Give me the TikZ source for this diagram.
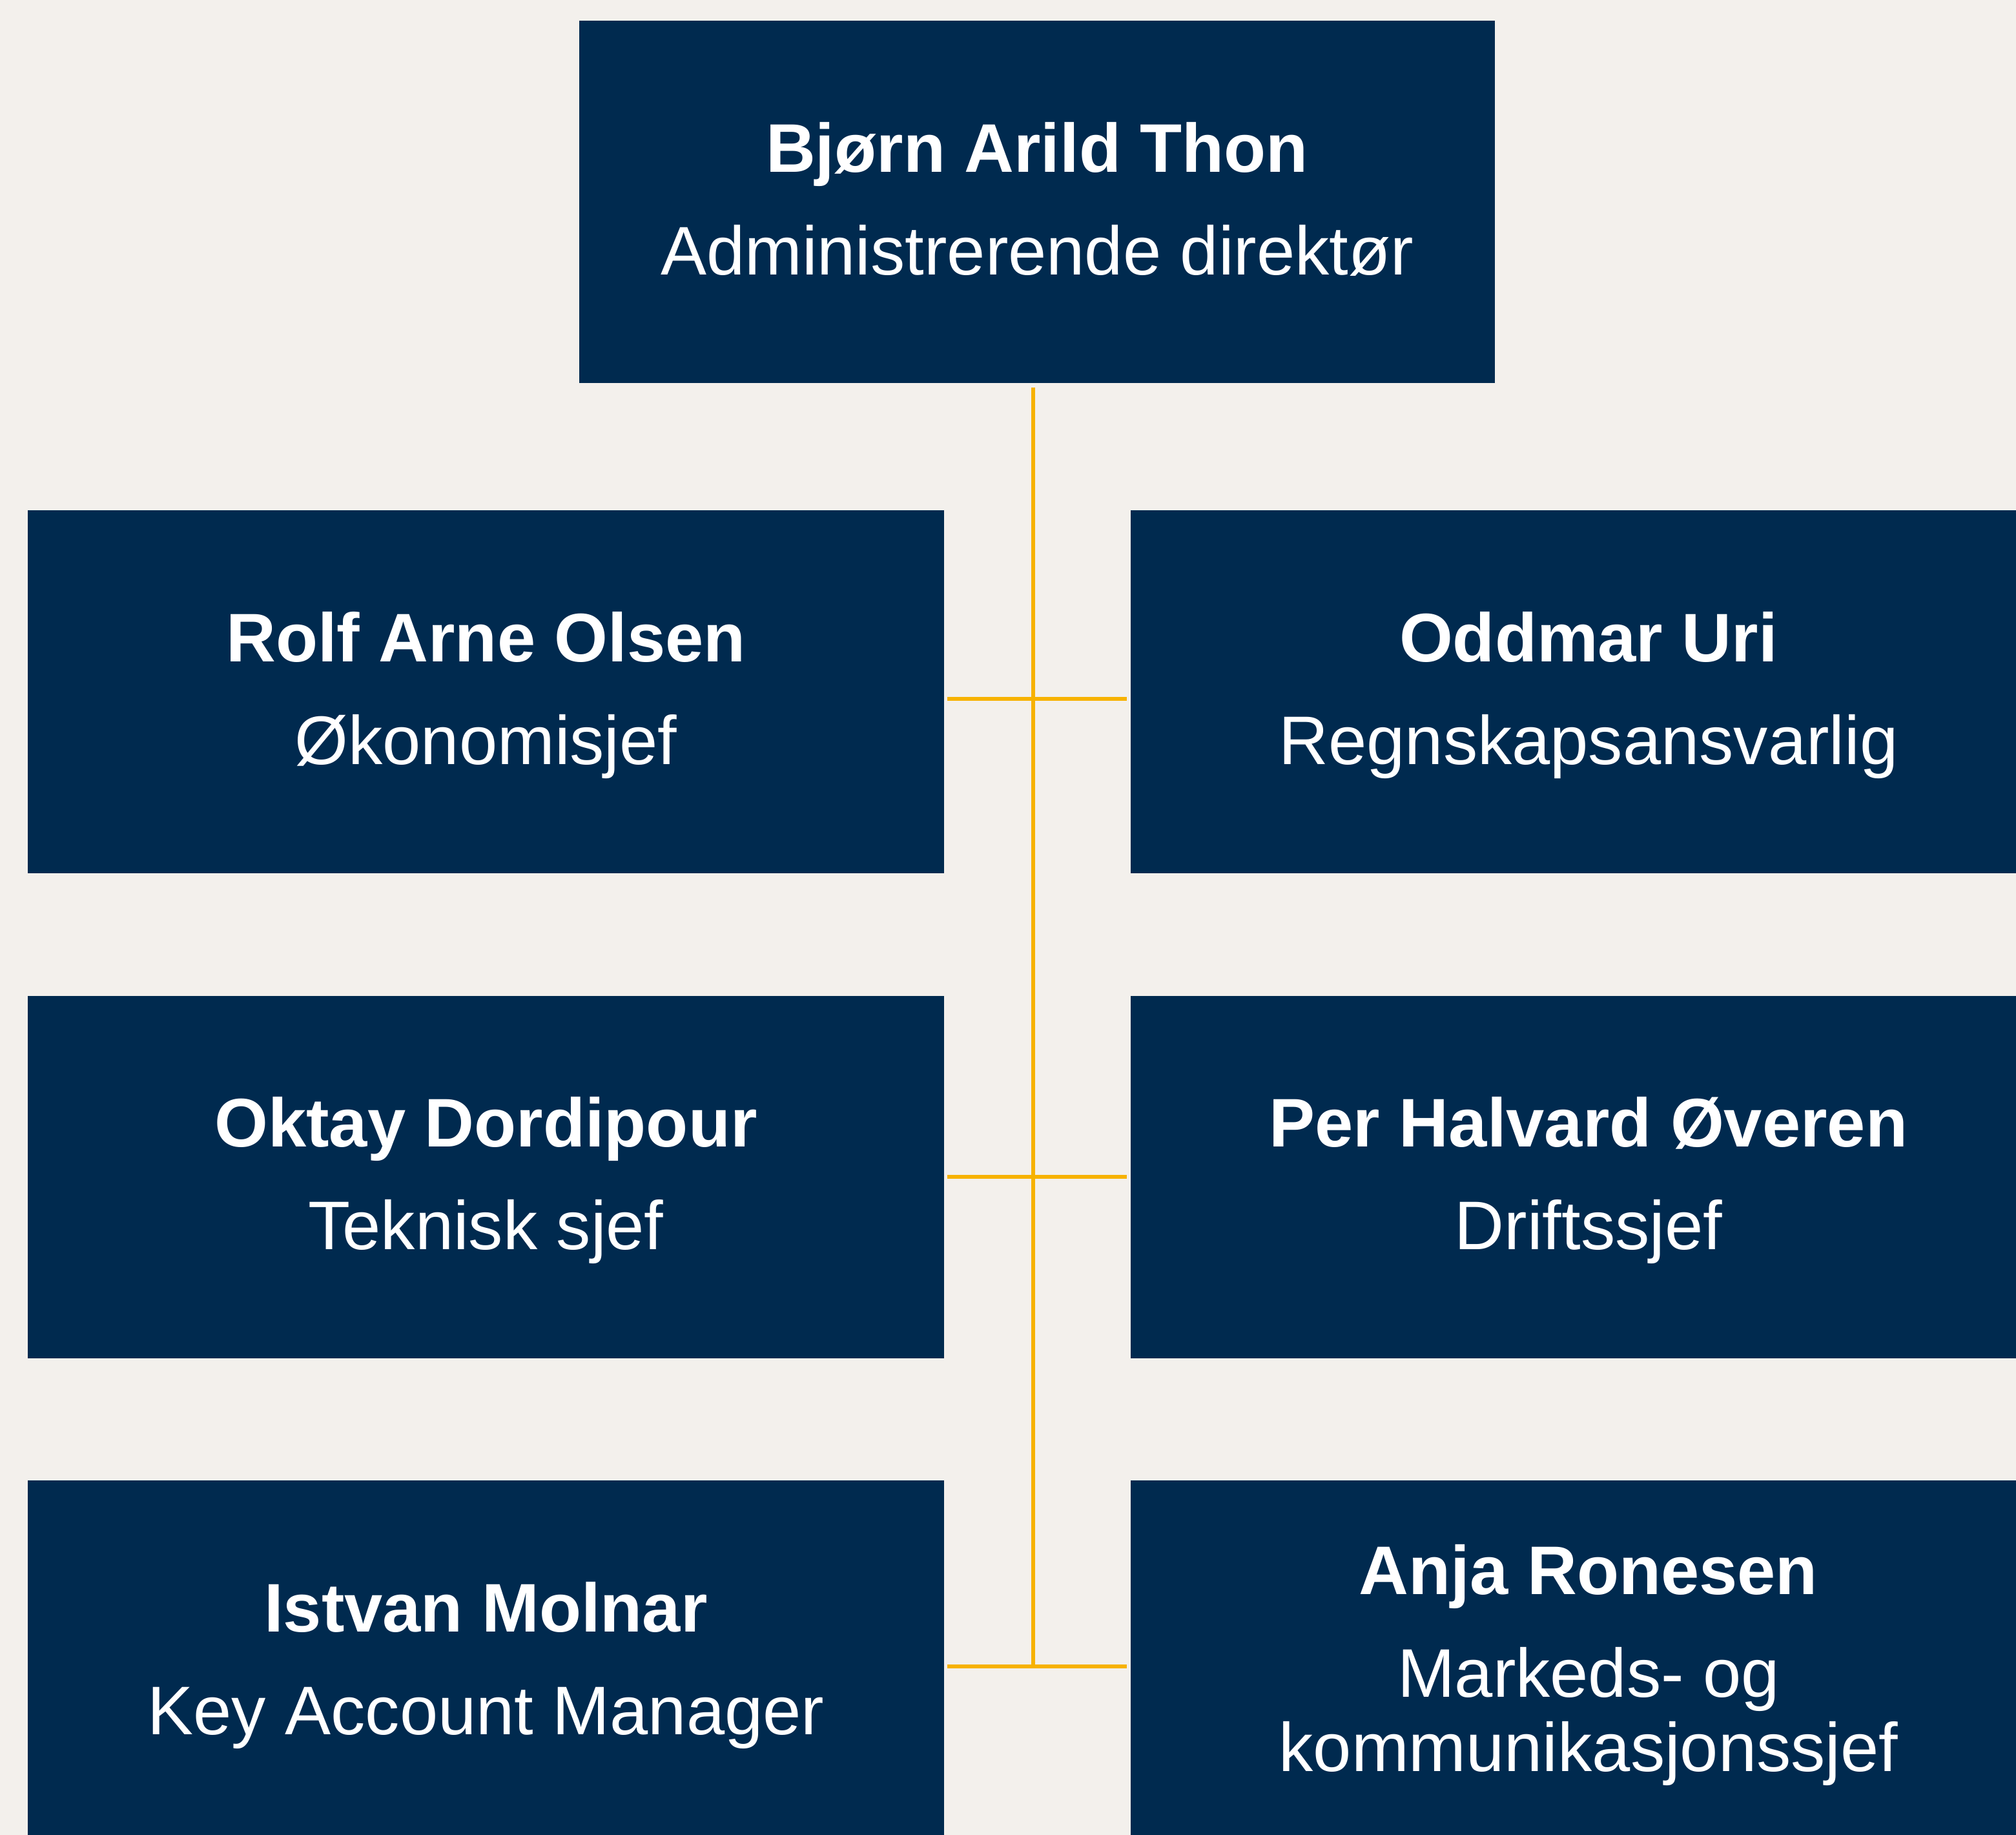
\documentclass[tikz,border=0pt]{standalone}
\usepackage{fontspec}
\setmainfont{Liberation Sans}
\usetikzlibrary{positioning}
\definecolor{pagebg}{RGB}{243,240,236}
\definecolor{boxblue}{RGB}{0,42,79}
\definecolor{linkyellow}{RGB}{247,178,0}
\tikzset{
  pbox/.style={rectangle, fill=boxblue, minimum width=14.18cm, minimum height=5.61cm, inner sep=0pt},
  pname/.style={anchor=base, text=white, inner sep=0pt, font=\fontsize{30.3}{36}\selectfont\bfseries},
  prole/.style={anchor=base, text=white, inner sep=0pt, font=\fontsize{30.3}{36}\selectfont},
  link/.style={draw=linkyellow, line width=0.055cm}
}
\begin{document}
\begin{tikzpicture}
\fill[pagebg] (0,0) rectangle (31.22,-28.41);
\useasboundingbox (0,0) rectangle (31.22,-28.41);
\begin{scope}
\clip (0,0) rectangle (31.22,-28.41);
% boxes
\node[pbox] (thon) at (16.06,-3.125) {};
\node[pbox] (olsen) at (7.525,-10.71) {};
\node[pbox] (uri) at (24.60,-10.71) {};
\node[pbox] (dordipour) at (7.525,-18.22) {};
\node[pbox] (overen) at (24.60,-18.22) {};
\node[pbox] (molnar) at (7.525,-25.725) {};
\node[pbox] (ronesen) at (24.60,-25.725) {};
% names and roles
\node[pname] (thon-n) at ([yshift=-2.35cm]thon.north) {Bjørn Arild Thon};
\node[prole] (thon-r) at ([yshift=-3.94cm]thon.north) {Administrerende direktør};
\node[pname] (olsen-n) at ([yshift=-2.35cm]olsen.north) {Rolf Arne Olsen};
\node[prole] (olsen-r) at ([yshift=-3.94cm]olsen.north) {Økonomisjef};
\node[pname] (uri-n) at ([yshift=-2.35cm]uri.north) {Oddmar Uri};
\node[prole] (uri-r) at ([yshift=-3.94cm]uri.north) {Regnskapsansvarlig};
\node[pname] (dordipour-n) at ([yshift=-2.35cm]dordipour.north) {Oktay Dordipour};
\node[prole] (dordipour-r) at ([yshift=-3.94cm]dordipour.north) {Teknisk sjef};
\node[pname] (overen-n) at ([yshift=-2.35cm]overen.north) {Per Halvard Øveren};
\node[prole] (overen-r) at ([yshift=-3.94cm]overen.north) {Driftssjef};
\node[pname] (molnar-n) at ([yshift=-2.35cm]molnar.north) {Istvan Molnar};
\node[prole] (molnar-r) at ([yshift=-3.94cm]molnar.north) {Key Account Manager};
\node[pname] (ronesen-n) at ([yshift=-1.77cm]ronesen.north) {Anja Ronesen};
\node[prole] (ronesen-r1) at ([yshift=-3.36cm]ronesen.north) {Markeds- og};
\node[prole] (ronesen-r2) at ([yshift=-4.51cm]ronesen.north) {kommunikasjonssjef};
% junctions on the trunk
\coordinate (j1) at (16.00,-10.82);
\coordinate (j2) at (16.00,-18.22);
\coordinate (j3) at (16.00,-25.80);
% connectors
\draw[link] ([yshift=-0.06cm]j1 |- thon.south) -- (j3);
\draw[link, shorten <=0.05cm, shorten >=0.05cm] (olsen.east |- j1) -- (uri.west |- j1);
\draw[link, shorten <=0.05cm, shorten >=0.05cm] (dordipour.east |- j2) -- (overen.west |- j2);
\draw[link, shorten <=0.05cm, shorten >=0.05cm] (molnar.east |- j3) -- (ronesen.west |- j3);
\end{scope}
\end{tikzpicture}
\end{document}
